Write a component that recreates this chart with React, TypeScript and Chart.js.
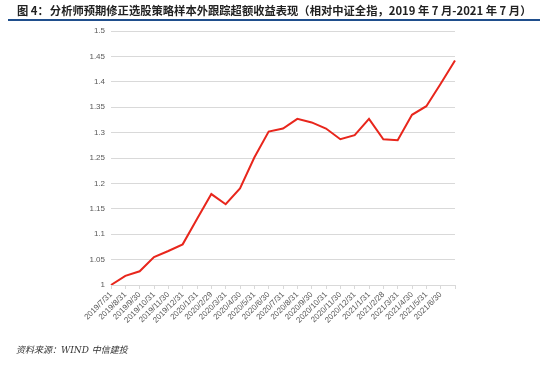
import React, { useEffect, useRef } from "react";
import { Chart, registerables } from "chart.js";

Chart.register(...registerables);

const categories: string[] = [
  "2019/7/31", "2019/8/31", "2019/9/30", "2019/10/31", "2019/11/30", "2019/12/31",
  "2020/1/31", "2020/2/29", "2020/3/31", "2020/4/30", "2020/5/31", "2020/6/30",
  "2020/7/31", "2020/8/31", "2020/9/30", "2020/10/31", "2020/11/30", "2020/12/31",
  "2021/1/31", "2021/2/28", "2021/3/31", "2021/4/30", "2021/5/31", "2021/6/30", "",
];

const excessReturn: number[] = [
  1.0, 1.018, 1.027, 1.055, 1.067, 1.08, 1.13, 1.179, 1.159, 1.19, 1.251, 1.302,
  1.308, 1.327, 1.32, 1.308, 1.287, 1.295, 1.327, 1.287, 1.285, 1.335, 1.352, 1.396, 1.442,
];

const yMin = 1;
const yMax = 1.5;
const yStep = 0.05;

const titleLabel = "图 4：";
const titleText = "分析师预期修正选股策略样本外跟踪超额收益表现（相对中证全指，2019 年 7 月-2021 年 7 月）";
const sourceText = "资料来源：WIND  中信建投";

export default function App() {
  const ref = useRef<HTMLCanvasElement | null>(null);

  useEffect(() => {
    document.body.style.margin = "0";
    const canvas = ref.current;
    if (!canvas) return;
    const tickFont = { size: 8, family: "'Liberation Sans', Arial, sans-serif" };
    const chart = new Chart(canvas, {
      type: "line",
      data: {
        labels: categories,
        datasets: [
          {
            data: excessReturn,
            borderColor: "#e8261c",
            backgroundColor: "#e8261c",
            borderWidth: 2,
            pointRadius: 0,
            tension: 0,
            fill: false,
          },
        ],
      },
      options: {
        responsive: false,
        animation: false,
        layout: { padding: { top: 31, right: 95, bottom: 0, left: 0 } },
        plugins: { legend: { display: false }, tooltip: { enabled: false } },
        scales: {
          x: {
            offset: false,
            grid: { drawOnChartArea: false, drawTicks: true, tickLength: 4, color: "#d9d9d9" },
            border: { display: true, color: "#d9d9d9" },
            ticks: {
              autoSkip: false,
              minRotation: 45,
              maxRotation: 45,
              padding: 1,
              color: "#595959",
              font: tickFont,
            },
            afterFit: (s: any) => {
              s.height = 83;
            },
          },
          y: {
            min: yMin,
            max: yMax,
            grid: { color: "#d9d9d9", drawTicks: false, lineWidth: 1 },
            border: { display: false },
            ticks: {
              stepSize: yStep,
              padding: 6,
              color: "#595959",
              font: tickFont,
              callback: (v: any) => String(Number(Number(v).toFixed(2))),
            },
            afterFit: (s: any) => {
              s.width = 111;
            },
          },
        },
      },
    });
    return () => chart.destroy();
  }, []);

  return (
    <div style={{ position: "fixed", left: 0, top: 0, width: 550, height: 368, background: "#fff", overflow: "hidden" }}>
      <canvas ref={ref} width={550} height={368} style={{ position: "absolute", left: 0, top: 0 }} />
      <div
        style={{
          position: "absolute",
          left: 17,
          top: 3,
          whiteSpace: "nowrap",
          fontFamily: "'Noto Sans CJK SC', sans-serif",
          fontWeight: 700,
          fontSize: 11.3,
          lineHeight: "14px",
          color: "#222",
        }}
      >
        <span>{titleLabel}</span>
        <span style={{ marginLeft: 1 }}>{titleText}</span>
      </div>
      <div style={{ position: "absolute", left: 8, top: 19, width: 532, height: 2, background: "#1f4e8c" }} />
      <div
        style={{
          position: "absolute",
          left: 16,
          top: 344,
          whiteSpace: "nowrap",
          fontFamily: "'DejaVu Serif', 'Noto Sans CJK SC', serif",
          fontStyle: "italic",
          fontSize: 9,
          lineHeight: "13px",
          color: "#333",
        }}
      >
        {sourceText}
      </div>
    </div>
  );
}
